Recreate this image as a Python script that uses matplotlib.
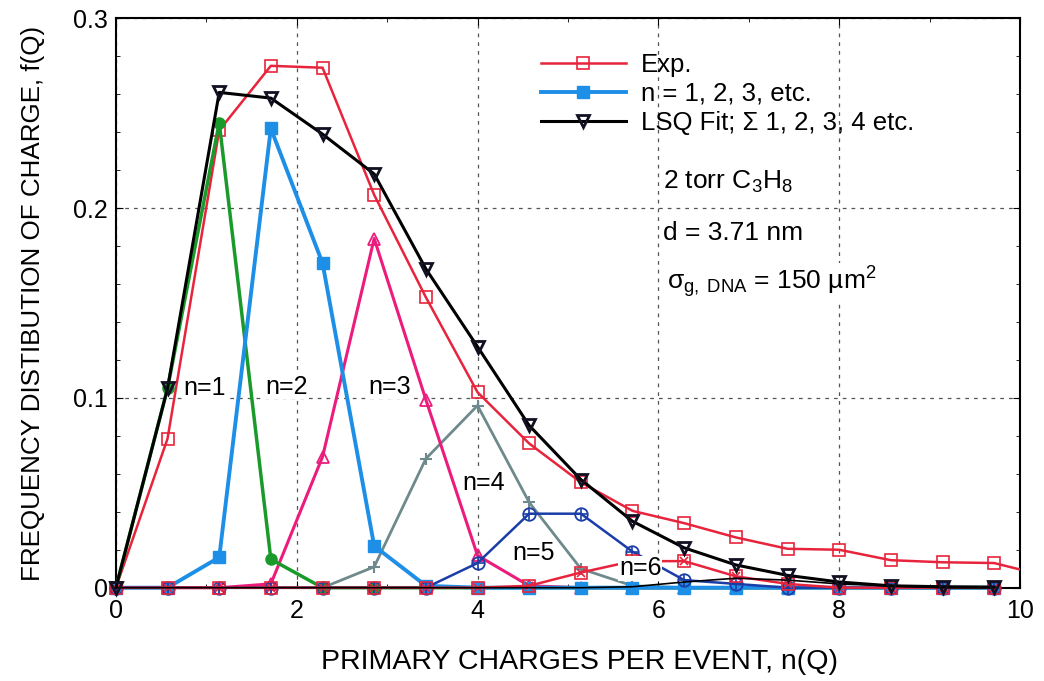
import matplotlib
matplotlib.use('Agg')
import matplotlib.pyplot as plt
from matplotlib.ticker import MultipleLocator

plt.rcParams['font.family'] = ['Liberation Sans', 'DejaVu Sans']
plt.rcParams['mathtext.fontset'] = 'custom'
plt.rcParams['mathtext.rm'] = 'Liberation Sans'
plt.rcParams['mathtext.it'] = 'Liberation Sans'

# primary charges per event (x positions of all series)
nq = [0, 0.571, 1.143, 1.714, 2.286, 2.857, 3.429, 4.0, 4.571, 5.143,
      5.714, 6.286, 6.857, 7.429, 8.0, 8.571, 9.143, 9.714]
nq_exp = nq + [10.286]

exp_vals = [0, 0.0785, 0.241, 0.275, 0.274, 0.207, 0.153, 0.103, 0.076, 0.0555,
            0.0405, 0.034, 0.0265, 0.0205, 0.020, 0.0145, 0.0134, 0.013, 0.0062]
lsq_vals = [0, 0.105, 0.261, 0.258, 0.239, 0.218, 0.168, 0.127, 0.0855, 0.057,
            0.035, 0.021, 0.012, 0.0065, 0.003, 0.001, 0.0005, 0.0003]
n1 = [0, 0.105, 0.245, 0.015, 0, 0, 0, 0, 0, 0, 0, 0, 0, 0, 0, 0, 0, 0]
n2 = [0, 0, 0.016, 0.242, 0.171, 0.022, 0.001, 0, 0, 0, 0, 0, 0, 0, 0, 0, 0, 0]
n3 = [0, 0, 0, 0.002, 0.069, 0.184, 0.099, 0.017, 0.001, 0, 0, 0, 0, 0, 0, 0, 0, 0]
n4 = [0, 0, 0, 0, 0, 0.011, 0.068, 0.096, 0.045, 0.010, 0.001, 0, 0, 0, 0, 0, 0, 0]
n5 = [0, 0, 0, 0, 0, 0, 0, 0.013, 0.039, 0.039, 0.019, 0.004, 0.002, 0, 0, 0, 0, 0]
n6 = [0, 0, 0, 0, 0, 0, 0, 0, 0.001, 0.008, 0.014, 0.014, 0.006, 0.002, 0, 0, 0, 0]
n7 = [0, 0, 0, 0, 0, 0, 0, 0, 0, 0, 0.0005, 0.003, 0.005, 0.004, 0.002, 0.001, 0, 0]

# labels for the individual n curves
n_labels = ['n=1', 'n=2', 'n=3', 'n=4', 'n=5', 'n=6']
n_label_x = [0.98, 1.89, 3.03, 4.07, 4.62, 5.8]
n_label_y = [0.105, 0.106, 0.106, 0.055, 0.0184, 0.0102]

fig = plt.figure(figsize=(10.44, 6.81), dpi=100)
ax = fig.add_axes([0.111, 0.137, 0.866, 0.836])

red = '#e8243c'
blue = '#1e8fe6'
pink = '#ec1c7c'
green = '#1a9a2a'
gray = '#6f8a8c'
navy = '#1a3da8'

ax.plot(nq_exp, exp_vals, color=red, lw=1.8, marker='s', ms=9, mfc='none',
        mec=red, mew=1.2, label='Exp.', zorder=3)
ax.plot(nq, n4, color=gray, lw=2, marker='+', ms=9, mew=1.5, clip_on=False, zorder=3)
ax.plot(nq, n3, color=pink, lw=2.2, marker='^', ms=8, mfc='none', mew=1.3,
        clip_on=False, zorder=3)
ax.plot(nq, n1, color=green, lw=2.5, marker='o', ms=8, clip_on=False, zorder=3)
ax.plot(nq, n2, color=blue, lw=2.8, marker='s', ms=9, clip_on=False,
        label='n = 1, 2, 3, etc.', zorder=4)
ax.plot(nq, n5, color=navy, lw=1.8, marker='o', ms=9, mfc='none', mew=1.3,
        clip_on=False, zorder=4)
ax.plot(nq, n5, ls='none', color=navy, marker='+', ms=9, mew=1.2, clip_on=False, zorder=4)
ax.plot(nq, n6, color=red, lw=1.8, marker='s', ms=8, mfc='none', mew=1.2,
        clip_on=False, zorder=4)
ax.plot(nq, n6, ls='none', color=red, marker='x', ms=6, mew=1.2, clip_on=False, zorder=4)
ax.plot(nq, n7, color='black', lw=1.2, clip_on=False, zorder=4)
ax.plot(nq, lsq_vals, color='black', lw=2.2, marker='v', ms=9, mfc='none',
        mec='#111122', mew=2, label='LSQ Fit; \u03a3 1, 2, 3, 4 etc.',
        clip_on=False, zorder=5)

for lab, lx, ly in zip(n_labels, n_label_x, n_label_y):
    ax.text(lx, ly, lab, fontsize=18, ha='center', va='center', zorder=6,
            bbox=dict(facecolor='white', edgecolor='none', pad=0.5))

ax.set_xlim(0, 10)
ax.set_ylim(0, 0.3)
ax.xaxis.set_major_locator(MultipleLocator(2))
ax.xaxis.set_minor_locator(MultipleLocator(1))
ax.yaxis.set_major_locator(MultipleLocator(0.1))
ax.yaxis.set_minor_locator(MultipleLocator(0.02))
ax.set_yticks([0, 0.1, 0.2, 0.3])
ax.set_yticklabels(['0', '0.1', '0.2', '0.3'])
ax.tick_params(which='both', direction='in', top=True, right=True, labelsize=18)
ax.tick_params(which='major', length=5)
ax.tick_params(which='minor', length=3)
ax.tick_params(axis='x', pad=8)
ax.tick_params(axis='y', pad=6)
ax.grid(True, which='major', ls=(0, (3, 4)), color='#555555', lw=0.9)
for s in ax.spines.values():
    s.set_linewidth(1.5)

ax.set_xlabel('PRIMARY CHARGES PER EVENT, n(Q)', fontsize=20.5)
ax.xaxis.set_label_coords(0.513, -0.108)
ax.set_ylabel('FREQUENCY DISTIBUTION OF CHARGE, f(Q)', fontsize=18.7, labelpad=20)

ax.legend(loc='upper left', bbox_to_anchor=(0.47, 0.94), frameon=False,
          fontsize=18.5, handlelength=3.3, handletextpad=0.6, labelspacing=0.2,
          borderaxespad=0, borderpad=0)

ax.text(6.05, 0.214, '2 torr C$_3$H$_8$', fontsize=19, va='center',
        bbox=dict(facecolor='white', edgecolor='none', pad=1))
ax.text(6.05, 0.187, 'd = 3.71 nm', fontsize=19, va='center',
        bbox=dict(facecolor='white', edgecolor='none', pad=1))
ax.text(6.1, 0.161, '$\\sigma_{g,\\ DNA}$ = 150 \u00b5m$^2$', fontsize=19, va='center',
        bbox=dict(facecolor='white', edgecolor='none', pad=1))

fig.savefig('out.png', dpi=100)
